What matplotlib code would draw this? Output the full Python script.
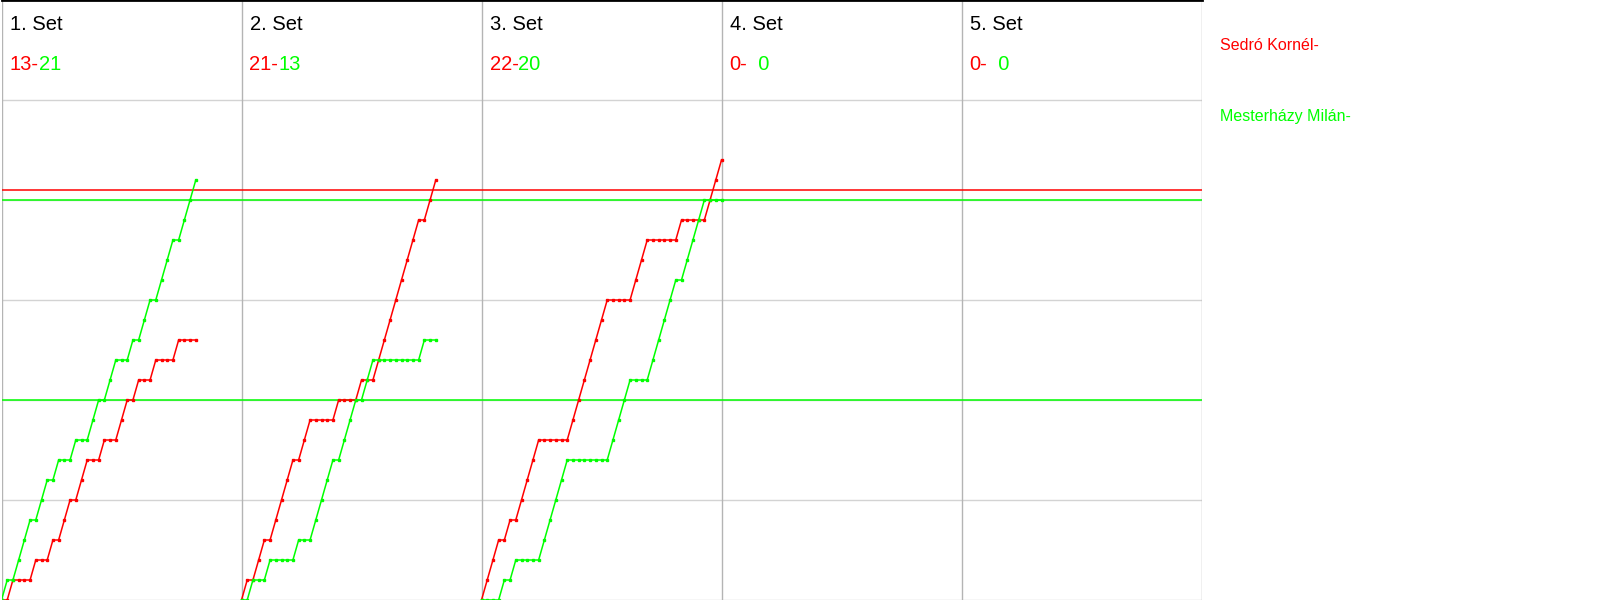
import numpy as np
import matplotlib
matplotlib.use("Agg")
import matplotlib.pyplot as plt

plt.rcParams['font.family'] = ['Liberation Sans', 'DejaVu Sans']

# ki nyerte a labdamenetet: R = Sedró Kornél, G = Mesterházy Milán
set_labels = ['1. Set', '2. Set', '3. Set', '4. Set', '5. Set']
rallies = [
    'GRGGGRGGRGRRGRRGGRGGRRGRGGRGGGRGGG',
    'RGRRGRRRRGRRGGGGRGGGRGGRRRRRRRRGRR',
    'RRRGRGRRRRGGGGGRRRRRRRGGGGRRRGGGGGRGGGGRRR',
    '',
    '',
]
red_scores = [13, 21, 22, 0, 0]
green_scores = [21, 13, 20, 0, 0]
players = ['Sedró Kornél-', 'Mesterházy Milán-']
red_lines = [20.5]
green_lines = [20, 10]

RED = '#ff0000'
GREEN = '#00ff00'
slot = 42  # labdamenet helye egy szett oszlopban

fig = plt.figure(figsize=(16, 6), dpi=100)
ax = fig.add_axes([1.5 / 1600, 0, 1200 / 1600, 1])
ax.set_xlim(0, slot * len(set_labels))
ax.set_ylim(0, 30)
ax.axis('off')

# racs
for y in [0, 5, 10, 15, 20, 25]:
    ax.axhline(y, color='#d3d3d3', lw=1, zorder=1)
for i in range(len(set_labels) + 1):
    ax.axvline(i * slot, color='#b4b4b4', lw=1, zorder=1)
ax.axhline(30, color='black', lw=2, zorder=1, clip_on=False)

for y in red_lines:
    ax.axhline(y, color=RED, lw=1.1, zorder=2)
for y in green_lines:
    ax.axhline(y, color=GREEN, lw=1.1, zorder=2)

for i, seq in enumerate(rallies):
    x0 = i * slot
    if seq:
        s = np.array(list(seq))
        x = x0 + np.arange(len(s) + 1)
        r = np.concatenate([[0], np.cumsum(s == 'R')])
        g = np.concatenate([[0], np.cumsum(s == 'G')])
        ax.plot(x, r, color=RED, lw=1.1, marker='s', ms=1.5, zorder=3)
        ax.plot(x, g, color=GREEN, lw=1.1, marker='s', ms=1.5, zorder=3)

    ax.text(x0 + 1.4, 28.5, set_labels[i], fontsize=14.5, color='black', va='baseline')
    t = ax.text(x0 + 1.4, 26.5, '%d-' % red_scores[i], fontsize=14.5, color=RED, va='baseline')
    gtxt = '%d' % green_scores[i] if green_scores[i] >= 10 else '  %d' % green_scores[i]
    ax.annotate(gtxt, xy=(1, 0), xycoords=t, fontsize=14.5, color=GREEN, va='bottom')

fig.text(1220 / 1600, 1 - 50 / 600, players[0], fontsize=11.5, color=RED, va='baseline')
fig.text(1220 / 1600, 1 - 121 / 600, players[1], fontsize=11.5, color=GREEN, va='baseline')

fig.savefig('out.png', dpi=100)
